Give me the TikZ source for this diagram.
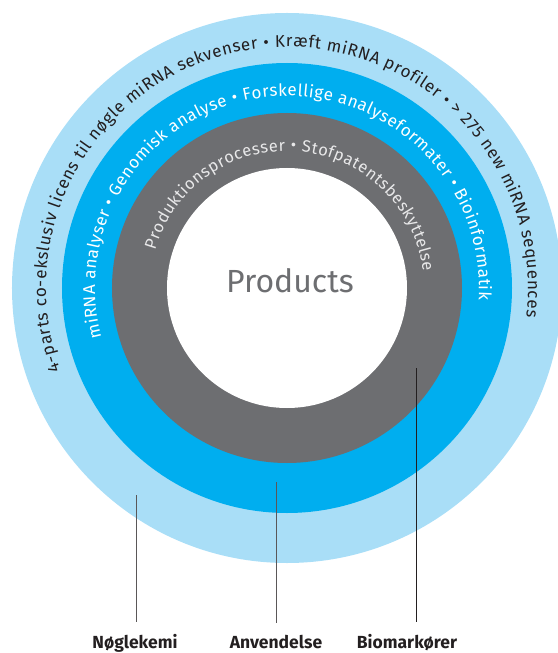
\documentclass[tikz,border=0pt]{standalone}
\usepackage{fontspec}
\setmainfont{Fira Sans}
\usetikzlibrary{decorations.text}

\definecolor{ringlight}{RGB}{169,222,247}
\definecolor{ringblue}{RGB}{0,174,239}
\definecolor{ringgray}{RGB}{109,110,113}
\definecolor{inkdark}{RGB}{35,31,32}
\definecolor{inklight}{RGB}{232,232,233}

\newcommand\ringfont{\fontsize{17}{17}\selectfont}

\tikzset{
	ringtext/.style={decorate, decoration={text along path, text align={fit to path}}},
	labeltext/.style={font=\fontsize{17.5}{17.5}\selectfont\bfseries, text=inkdark, inner sep=0pt, anchor=base},
	leader/.style={draw=inkdark!75, line width=0.9pt, shorten >=12pt}
}

\begin{document}
\begin{tikzpicture}[x=1pt, y=1pt]
	\useasboundingbox (-287,-365) rectangle (270,288);
	
	% Rings
	\fill [ringlight] 	(0,0) circle [radius=275pt];
	\fill [ringblue] 	(0,0) circle [radius=225pt];
	\fill [ringgray] 	(0,0) circle [radius=175pt];
	\fill [white] 		(0,0) circle [radius=120pt];
	
	% Texts on the rings
	\path [ringtext, decoration={text={|\ringfont\color{inkdark}|4-parts co-ekslusiv licens til nøgle miRNA sekvenser • Kræft miRNA profiler • > 275 new miRNA sequences}}]
		(200:241pt) arc [start angle=200, end angle=-7, radius=241pt];
	\path [ringtext, decoration={text={|\ringfont\color{white}|miRNA analyser • Genomisk analyse • Forskellige analyseformater • Bioinformatik}}]
		(195:192pt) arc [start angle=195, end angle=-3.5, radius=192pt];
	\path [ringtext, decoration={text={|\fontsize{16.5}{16.5}\selectfont\color{inklight}|Produktionsprocesser • Stofpatentsbeskyttelse}}]
		(164:137pt) arc [start angle=164, end angle=7, radius=137pt];
	
	\node [font=\fontsize{32}{32}\selectfont, text=ringgray, anchor=base] (products) at (3,-5) {Products};
	
	% Labels
	\coordinate (nogletop) at (-151,-207);
	\coordinate (anvtop)   at (-11,-194);
	\coordinate (biotop)   at (129,-80);
	
	\node [labeltext] (nogle) at (-152,-360) {Nøglekemi};
	\node [labeltext] (anv)   at (-11,-360)  {Anvendelse};
	\node [labeltext] (bio)   at (120,-360)  {Biomarkører};
	
	\draw [leader] 			(nogletop) -- (nogletop |- nogle.north);
	\draw [leader] 			(anvtop)   -- (anvtop |- anv.north);
	\draw [leader, draw=inkdark] 	(biotop)   -- (biotop |- bio.north);
	
\end{tikzpicture}
\end{document}
